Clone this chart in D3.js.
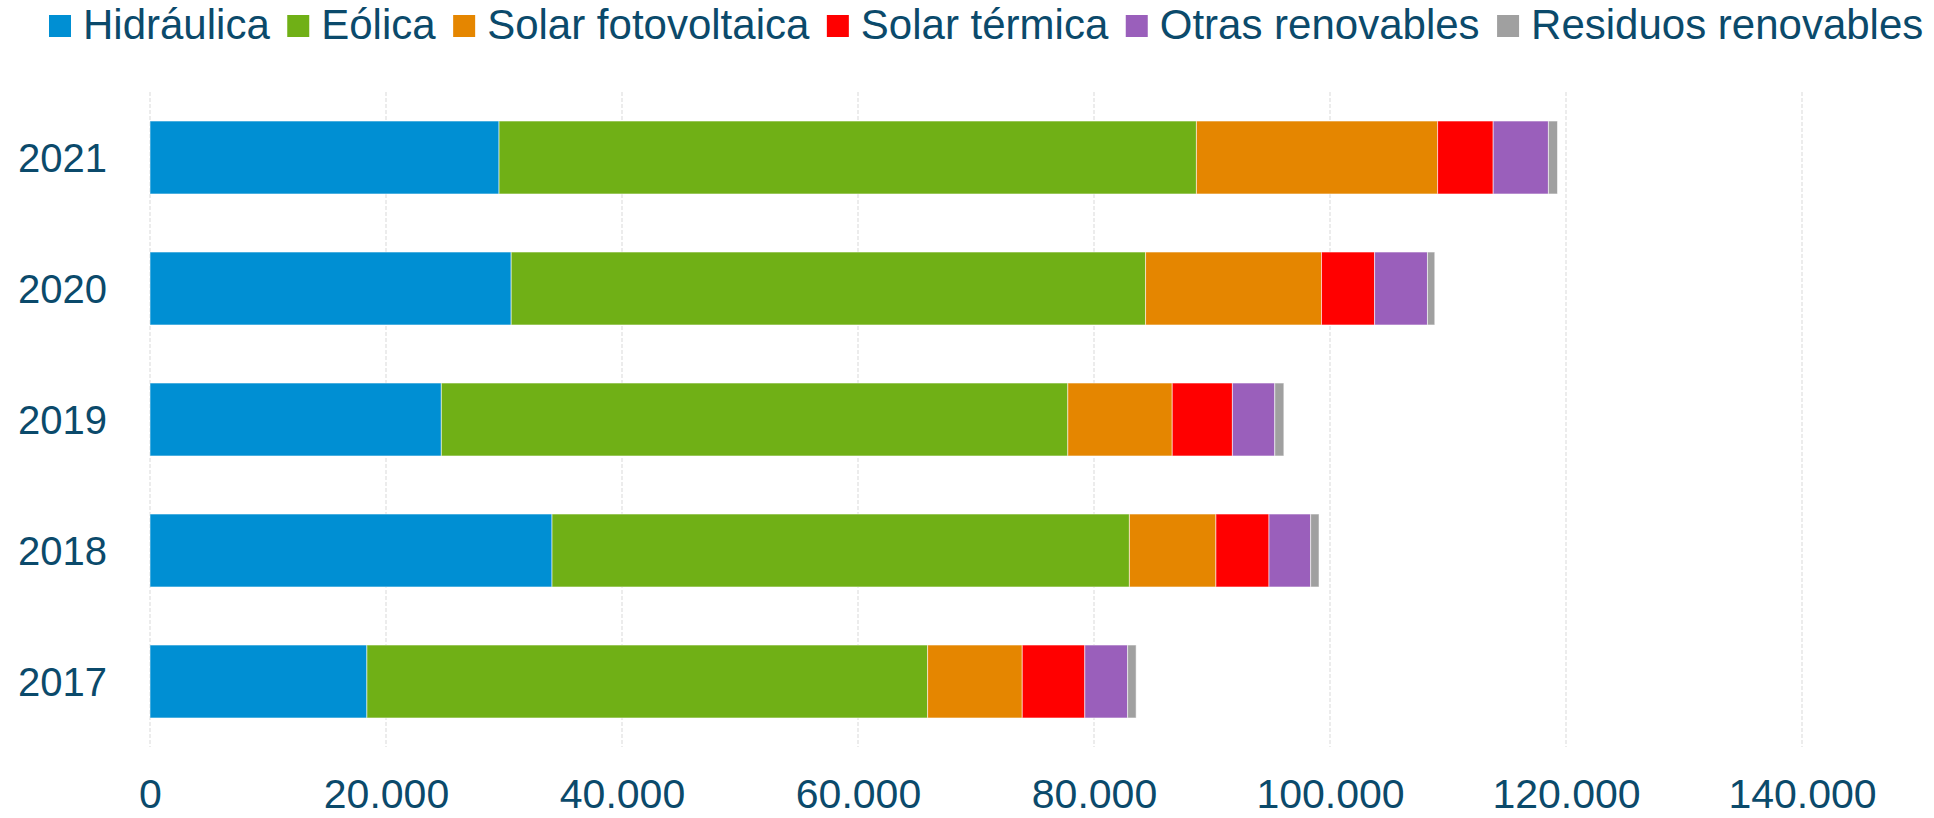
<!DOCTYPE html>
<html>
<head>
<meta charset="utf-8">
<script src="https://cdn.jsdelivr.net/npm/d3@7"></script>
<style>
  body { margin: 0; background: #fff; }
  text { font-family: "Liberation Sans", Arial, sans-serif; fill: #0b4a6b; }
</style>
</head>
<body>
<script>
// datos (GWh)
var years = ["2021", "2020", "2019", "2018", "2017"];
var series = ["Hidráulica", "Eólica", "Solar fotovoltaica", "Solar térmica", "Otras renovables", "Residuos renovables"];
var colors = ["#008fd3", "#70b016", "#e58600", "#ff0000", "#9a5fbb", "#a0a0a0"];
var hidraulica = [29580, 30610, 24690, 34070, 18380];
var eolica     = [59100, 53760, 53090, 48930, 47520];
var solarFv    = [20440, 14910, 8850, 7330, 8020];
var solarTerm  = [4710, 4500, 5100, 4500, 5300];
var otras      = [4680, 4480, 3590, 3530, 3630];
var residuos   = [770, 620, 770, 710, 720];
var xTicks = [0, 20000, 40000, 60000, 80000, 100000, 120000, 140000];

var width = 1934, height = 818;

var svg = d3.select("body").append("svg")
    .attr("width", width)
    .attr("height", height);

var table = years.map(function(y, i) {
    return {
        year: y,
        "Hidráulica": hidraulica[i],
        "Eólica": eolica[i],
        "Solar fotovoltaica": solarFv[i],
        "Solar térmica": solarTerm[i],
        "Otras renovables": otras[i],
        "Residuos renovables": residuos[i]
    };
});

var stacked = d3.stack().keys(series)(table);

var x = d3.scaleLinear()
    .domain([0, 140000])
    .range([150, 1802]);

var y = d3.scaleBand()
    .domain(years)
    .range([92, 747])
    .paddingInner(0.443)
    .paddingOuter(0.2215);

var color = d3.scaleOrdinal().domain(series).range(colors);

// lineas de cuadricula
svg.append("g").selectAll("line")
    .data(xTicks)
    .enter().append("line")
    .attr("x1", function(d) { return x(d); })
    .attr("x2", function(d) { return x(d); })
    .attr("y1", 92)
    .attr("y2", 747)
    .attr("stroke", "#d9d9d9")
    .attr("stroke-width", 1)
    .attr("stroke-dasharray", "4,2");

// barras apiladas
svg.append("g").selectAll("g")
    .data(stacked)
    .enter().append("g")
    .attr("fill", function(d) { return color(d.key); })
    .selectAll("rect")
    .data(function(d) { return d; })
    .enter().append("rect")
    .attr("x", function(d) { return x(d[0]); })
    .attr("y", function(d) { return y(d.data.year); })
    .attr("width", function(d) { return x(d[1]) - x(d[0]); })
    .attr("height", y.bandwidth())
    .attr("stroke", "rgba(255,255,255,0.55)")
    .attr("stroke-width", 1);

// eje x
var xAxis = d3.axisBottom(x)
    .tickValues(xTicks)
    .tickSize(0)
    .tickPadding(0)
    .tickFormat(function(d) { return d === 0 ? "0" : d3.format(",")(d).replace(/,/g, "."); });

var gx = svg.append("g")
    .attr("transform", "translate(0,770)")
    .call(xAxis);
gx.select(".domain").remove();
gx.selectAll("text")
    .attr("dy", null)
    .attr("y", 38)
    .style("font-size", "41px")
    .style("font-family", "Liberation Sans, Arial, sans-serif")
    .attr("fill", "#0b4a6b");

// eje y
var yAxis = d3.axisLeft(y).tickSize(0).tickPadding(0);
var gy = svg.append("g")
    .attr("transform", "translate(107,0)")
    .call(yAxis);
gy.select(".domain").remove();
gy.selectAll("text")
    .attr("dy", "0.36em")
    .style("font-size", "40px")
    .style("font-family", "Liberation Sans, Arial, sans-serif")
    .attr("fill", "#0b4a6b");

// leyenda
var legend = svg.append("g").attr("class", "legend");
var lx = 49;
series.forEach(function(s, i) {
    var item = legend.append("g").attr("transform", "translate(" + lx + ",0)");
    item.append("rect")
        .attr("x", 0)
        .attr("y", 15)
        .attr("width", 22)
        .attr("height", 22)
        .attr("fill", colors[i]);
    var t = item.append("text")
        .attr("x", 34)
        .attr("y", 39)
        .style("font-size", "42px")
        .text(s);
    lx += 34 + t.node().getComputedTextLength() + 17.5;
});
</script>
</body>
</html>
